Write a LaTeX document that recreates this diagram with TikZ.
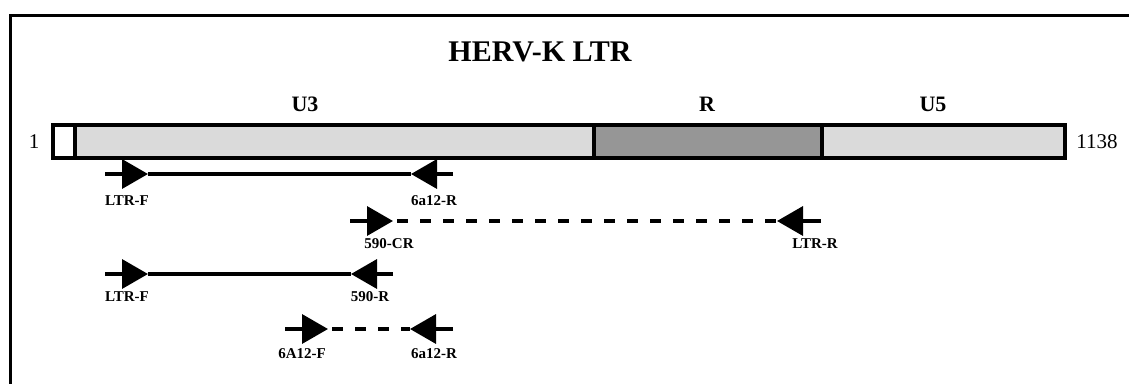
\documentclass[tikz,border=0pt]{standalone}
\usepackage{fontspec}
\setmainfont{Liberation Serif}
\usetikzlibrary{arrows.meta}
\definecolor{lightseg}{RGB}{218,218,218}
\definecolor{darkseg}{RGB}{150,150,150}
\tikzset{
  seg/.style={draw=black, line width=3.5pt},
  frameline/.style={line width=3pt, line cap=rect},
  primer/.style={line width=3.5pt},
  dashprimer/.style={line width=4.5pt, dash pattern=on 11pt off 12pt},
  tipF/.style={line width=3.5pt, -{Triangle[length=26pt,width=29pt]}},
  lbl/.style={font=\fontsize{15}{15}\selectfont\bfseries, inner sep=0pt},
  reglbl/.style={font=\fontsize{22}{22}\selectfont\bfseries, inner sep=0pt},
  numlbl/.style={font=\fontsize{21}{21}\selectfont, inner sep=0pt},
}
\begin{document}
\begin{tikzpicture}[x=1pt,y=-1pt]
\useasboundingbox (0,0) rectangle (1129,383);
% frame (cropped)
\draw[frameline] (10,383) -- (10,15) -- (1129,15);
% title
\node[font=\fontsize{30}{30}\selectfont\bfseries, inner sep=0pt] (title) at (540,52) {HERV-K LTR};
% bar
\node[seg, fill=white, minimum width=22pt, minimum height=33pt, inner sep=0pt, anchor=north west] (s0) at (51,123) {};
\node[seg, fill=lightseg, minimum width=519pt, minimum height=33pt, inner sep=0pt, anchor=north west] (u3) at (73,123) {};
\node[seg, fill=darkseg, minimum width=228pt, minimum height=33pt, inner sep=0pt, anchor=north west] (r) at (592,123) {};
\node[seg, fill=lightseg, minimum width=243pt, minimum height=33pt, inner sep=0pt, anchor=north west] (u5) at (820,123) {};
\node[reglbl] (lu3) at (305,104) {U3};
\node[reglbl] (lr) at (707,104) {R};
\node[reglbl] (lu5) at (933,104) {U5};
\node[numlbl] (n1) at (34,142) {1};
\node[numlbl] (n1138) at (1097,142) {1138};
% row 1: LTR-F / 6a12-R
\coordinate (a1) at (105,174); \coordinate (b1) at (148,174);
\coordinate (c1) at (411,174); \coordinate (d1) at (453,174);
\draw[primer] (b1) -- (c1);
\draw[tipF] (a1) -- (b1);
\draw[tipF] (d1) -- (c1);
\node[lbl] (l1f) at (127,201) {LTR-F};
\node[lbl] (l1r) at (434,201) {6a12-R};
% row 2: 590-CR / LTR-R
\coordinate (a2) at (350,221); \coordinate (b2) at (393,221);
\coordinate (c2) at (777,221); \coordinate (d2) at (821,221);
\draw[dashprimer] ([xshift=4pt]b2) -- (c2);
\draw[tipF] (a2) -- (b2);
\draw[tipF] (d2) -- (c2);
\node[lbl] (l2f) at (389,244) {590-CR};
\node[lbl] (l2r) at (815,244) {LTR-R};
% row 3: LTR-F / 590-R
\coordinate (a3) at (105,274); \coordinate (b3) at (148,274);
\coordinate (c3) at (351,274); \coordinate (d3) at (393,274);
\draw[primer] (b3) -- (c3);
\draw[tipF] (a3) -- (b3);
\draw[tipF] (d3) -- (c3);
\node[lbl] (l3f) at (127,297) {LTR-F};
\node[lbl] (l3r) at (370,297) {590-R};
% row 4: 6A12-F / 6a12-R
\coordinate (a4) at (285,329); \coordinate (b4) at (328,329);
\coordinate (c4) at (410,329); \coordinate (d4) at (453,329);
\draw[dashprimer] ([xshift=4pt]b4) -- (c4);
\draw[tipF] (a4) -- (b4);
\draw[tipF] (d4) -- (c4);
\node[lbl] (l4f) at (302,354) {6A12-F};
\node[lbl] (l4r) at (434,354) {6a12-R};
\end{tikzpicture}
\end{document}
